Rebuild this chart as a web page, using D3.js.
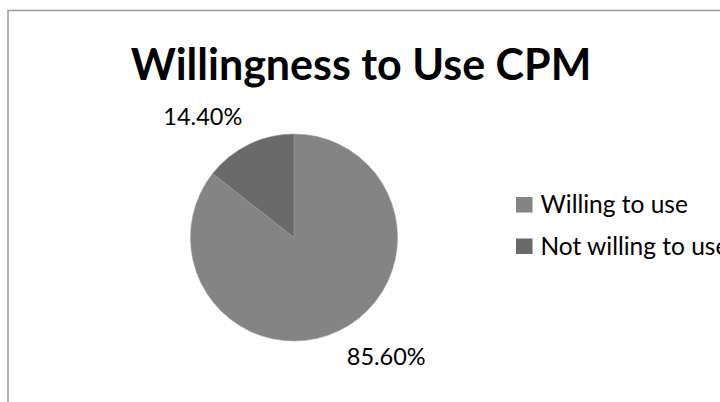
<!DOCTYPE html>
<html>
<head>
<meta charset="utf-8">
<script src="https://cdn.jsdelivr.net/npm/d3@7"></script>
<style>
  body { margin: 0; background: #fff; }
  svg { display: block; }
  text { font-family: Lato, "Open Sans", sans-serif; fill: #000; }
</style>
</head>
<body>
<div id="chart"></div>
<script>
const categories = ["Willing to use", "Not willing to use"];
const values = [85.6, 14.4];
const labels = ["85.60%", "14.40%"];
const colors = ["#848484", "#6a6a6a"];
const title = "Willingness to Use CPM";

const width = 720, height = 402;
const cx = 294, cy = 237.5, r = 103.5;

const svg = d3.select("#chart").append("svg")
  .attr("width", width)
  .attr("height", height);

// chart area border (right and bottom run off the picture)
svg.append("rect")
  .attr("x", 8)
  .attr("y", 10.5)
  .attr("width", 800)
  .attr("height", 500)
  .attr("fill", "none")
  .attr("stroke", "#9a9a9a")
  .attr("stroke-width", 1.5);

svg.append("text")
  .attr("x", 361)
  .attr("y", 80)
  .attr("text-anchor", "middle")
  .style("font-size", "43px")
  .style("font-weight", "bold")
  .text(title);

const pie = d3.pie().sort(null).value(d => d)(values);
const arc = d3.arc().innerRadius(0).outerRadius(r);

const g = svg.append("g").attr("transform", `translate(${cx},${cy})`);

g.selectAll("path")
  .data(pie)
  .enter()
  .append("path")
  .attr("d", arc)
  .attr("fill", (d, i) => colors[i])
  .attr("stroke", "#9c9c9c")
  .attr("stroke-width", 0.6);

// outside-end labels: box corner sits just off the rim at the slice's mid angle
const labelR = r + 19.5;
g.selectAll("text.label")
  .data(pie)
  .enter()
  .append("text")
  .attr("class", "label")
  .each(function (d, i) {
    const a = (d.startAngle + d.endAngle) / 2;
    const x = Math.sin(a) * labelR;
    const y = -Math.cos(a) * labelR;
    d3.select(this)
      .attr("x", x < 0 ? x + 2 : x - 1)
      .attr("y", y < 0 ? y - 2 : y + 17)
      .attr("text-anchor", x < 0 ? "end" : "start")
      .style("font-size", "23.5px")
      .text(labels[i]);
  });

const legend = svg.append("g").attr("transform", "translate(516,197)");
const item = legend.selectAll("g")
  .data(categories)
  .enter()
  .append("g")
  .attr("transform", (d, i) => `translate(0,${i * 41.5})`);

item.append("rect")
  .attr("width", 16.5)
  .attr("height", 15.5)
  .attr("fill", (d, i) => colors[i]);

item.append("text")
  .attr("x", 24.5)
  .attr("y", 16)
  .style("font-size", "24.5px")
  .text(d => d);
</script>
</body>
</html>
